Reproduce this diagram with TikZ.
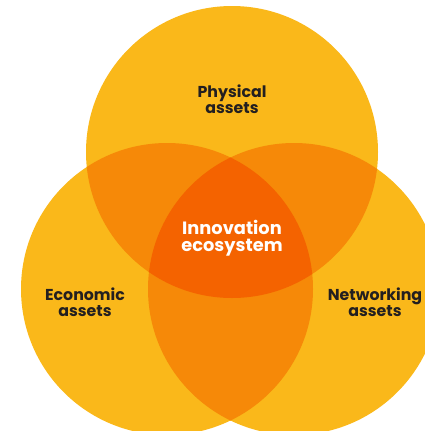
\documentclass[tikz,border=0pt]{standalone}
\usepackage{fontspec}
\setmainfont{Poppins}
\definecolor{vennYellow}{HTML}{FAB81A}
\definecolor{vennOrange}{HTML}{F68908}
\definecolor{vennCore}{HTML}{F46300}
\definecolor{vennText}{HTML}{231F20}

\begin{document}
\begin{tikzpicture}[x=1pt, y=-1pt,
  venntext/.style={font=\bfseries\fontsize{15.8}{16}\selectfont, text=vennText, align=center},
  coretext/.style={font=\bfseries\fontsize{17.8}{16.5}\selectfont, text=white, align=center},
  ring/.style={radius=146pt}]
\useasboundingbox (0,0) rectangle (425,431);
\coordinate (phys) at (232,152);
\coordinate (econ) at (167,289);
\coordinate (netw) at (294,289);

% the three sets
\fill[vennYellow] (phys) circle[ring];
\fill[vennYellow] (econ) circle[ring];
\fill[vennYellow] (netw) circle[ring];

% pairwise overlaps
\begin{scope}
  \clip (phys) circle[ring];
  \fill[vennOrange] (econ) circle[ring];
  \fill[vennOrange] (netw) circle[ring];
\end{scope}
\begin{scope}
  \clip (econ) circle[ring];
  \fill[vennOrange] (netw) circle[ring];
\end{scope}

% all three
\begin{scope}
  \clip (phys) circle[ring];
  \clip (econ) circle[ring];
  \fill[vennCore] (netw) circle[ring];
\end{scope}

\node[venntext] (physLbl) at (232,99) {Physical\\assets};
\node[venntext] (econLbl) at (85,302) {Economic\\assets};
\node[venntext] (netwLbl) at (375,302) {Networking\\assets};
\node[coretext] (coreLbl) at (232,238) {Innovation\\ecosystem};
\end{tikzpicture}
\end{document}
